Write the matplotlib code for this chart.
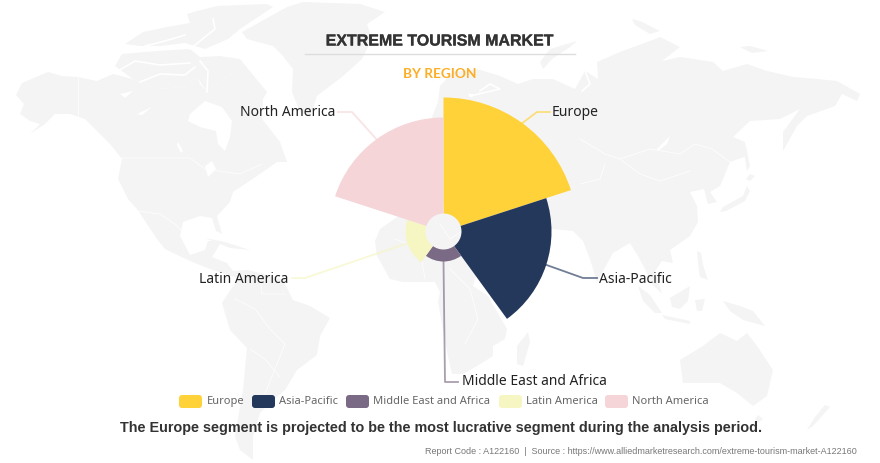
import numpy as np
import matplotlib
matplotlib.use('Agg')
import matplotlib.pyplot as plt
import matplotlib.patheffects as pe
from matplotlib.patches import Polygon, FancyBboxPatch

regions = ['Europe', 'Asia-Pacific', 'Middle East and Africa', 'Latin America', 'North America']
values = [134, 108, 30, 38, 114]
colors = ['#FFD23A', '#24385C', '#7B6A85', '#F6F6C3', '#F5D5D8']

HOLE = 18
CX, CY = 443.5, 232.5
MAP_COLOR = '#F4F4F4'

# background world map, traced by hand in pixel coordinates
land = [
    # north america
    [(16,96),(22,84),(48,73),(62,77),(78,78),(97,82),(113,75),(133,80),(157,90),(183,88),(197,78),(200,85),(207,93),
     (230,75),(243,90),(263,100),(262,120),(280,143),(287,163),(277,163),(257,177),(233,193),(230,203),(217,217),
     (222,235),(216,232),(212,219),(200,217),(183,223),(180,237),(190,256),(205,251),(208,242),(222,242),(212,258),
     (227,264),(233,272),(247,271),(240,280),(225,275),(210,270),(190,262),(165,250),(157,240),(137,210),(128,200),
     (118,180),(122,160),(110,145),(95,130),(85,120),(70,115),(55,115),(45,125),(30,135),(40,125),(30,122),(20,115),(24,105)],
    # south america
    [(247,271),(260,274),(283,281),(293,301),(310,307),(330,319),(320,337),(317,356),(297,371),(285,391),(273,401),
     (260,414),(253,437),(253,461),(240,451),(235,437),(243,391),(247,349),(230,331),(222,304),(233,287)],
    # greenland
    [(242,33),(262,22),(287,8),(303,3),(360,5),(385,13),(367,25),(372,40),(362,60),(343,77),(317,97),(310,118),
     (300,113),(292,93),(293,70),(283,57),(273,47),(247,40)],
    # arctic islands
    [(125,45),(143,33),(167,28),(190,24),(187,15),(197,12),(217,7),(267,5),(273,8),(240,30),(228,40),(205,50),(185,44),(160,47),(140,47)],
    [(115,67),(122,55),(157,52),(190,50),(200,58),(220,57),(240,60),(267,93),(263,100),(243,90),(230,75),(207,93),(197,78),(183,88),(157,90),(133,80)],
    # africa
    [(375,242),(380,230),(397,218),(440,212),(470,215),(485,250),(473,287),(488,297),(507,330),(505,340),(493,347),
     (493,357),(477,367),(463,375),(452,375),(447,353),(438,303),(440,293),(435,283),(403,283),(390,280),(377,257)],
    [(528,333),(530,343),(523,367),(517,365),(517,347)],
    # eurasia
    [(432,118),(438,103),(440,87),(453,73),(477,70),(500,77),(518,85),(533,80),(553,80),(575,90),(585,72),(598,80),
     (597,63),(620,53),(650,42),(660,38),(680,48),(662,62),(680,58),(713,63),(723,72),(747,65),(767,72),(793,78),
     (817,80),(837,82),(860,95),(857,102),(842,95),(835,107),(807,117),(797,127),(783,152),(783,133),(800,110),
     (780,120),(750,122),(733,138),(745,143),(747,157),(730,163),(720,187),(710,193),(717,203),(708,205),(704,190),
     (690,193),(697,207),(698,223),(690,237),(670,251),(673,264),(662,262),(655,272),(662,295),(652,285),(645,270),
     (638,257),(630,244),(613,254),(597,283),(590,260),(583,242),(573,232),(552,230),(540,270),(515,275),(490,240),
     (470,215),(440,205),(420,190)],
    [(540,63),(550,50),(577,42),(570,48),(552,60),(543,70)],
    [(632,20),(640,22),(660,32),(650,35),(635,26)],
    [(740,48),(750,47),(768,52),(752,54)],
    # islands of east and south-east asia
    [(747,187),(743,197),(723,208),(720,213),(726,212),(745,202),(750,192)],
    [(750,175),(755,177),(750,182),(746,180)],
    [(746,147),(750,167),(747,172),(745,160)],
    [(638,287),(650,296),(662,314),(655,314),(643,302)],
    [(662,316),(690,322),(690,325),(665,320)],
    [(670,299),(690,287),(688,302),(680,310),(672,308)],
    [(695,301),(705,300),(702,312),(697,312)],
    [(723,302),(740,307),(753,312),(765,327),(743,321),(730,312)],
    [(697,252),(701,254),(703,266),(708,281),(700,278),(698,264)],
    [(205,239),(225,243),(250,251),(230,249)],
    # australia and new zealand
    [(680,361),(703,347),(720,334),(737,342),(747,334),(757,347),(773,371),(767,397),(753,407),(737,394),(720,384),(683,384)],
    [(758,416),(763,420),(758,424),(755,420)],
    [(825,406),(830,408),(813,427),(807,431),(815,418)],
]

# inland water, drawn white over the land
water = [
    [(190,115),(205,102),(222,108),(232,122),(230,138),(225,152),(218,145),(216,132),(200,128),(188,122)],
    [(137,115),(152,108),(142,116)],
    [(120,95),(133,92),(125,99)],
    [(205,167),(212,162),(216,170),(208,178)],
    [(178,143),(183,152),(181,154),(177,146)],
    [(657,150),(670,137),(667,145),(658,152)],
    [(468,95),(474,95),(472,99)],
]

# thin white channels between the arctic islands
channels = [
    [(118,72),(135,62),(160,66),(190,64)],
    [(140,83),(160,75),(185,76),(195,68)],
    [(190,50),(200,42),(215,30),(213,20)],
    [(145,47),(165,42),(185,36)],
    [(200,62),(208,72),(207,93)],
    [(480,92),(490,85),(500,90),(470,97)],
    [(585,72),(590,85),(582,92)],
]

# thin white country borders
borders = [
    [(78,78),(78,118)],
    [(122,159),(190,159),(205,170),(240,175),(262,165)],
    [(137,212),(160,215),(175,225),(182,232)],
    [(580,140),(605,155),(620,160),(650,150),(680,155),(695,145),(712,150),(730,163)],
    [(620,160),(640,175),(660,182),(690,172)],
    [(580,185),(600,180),(605,165)],
    [(465,345),(478,320),(470,290),(450,270)],
    [(395,240),(420,250),(425,280)],
    [(440,225),(450,240),(462,232)],
    [(235,300),(255,310),(270,330),(285,345),(275,370),(265,395)],
    [(250,350),(265,360),(280,378)],
    [(260,275),(262,295),(285,295)],
]

# elbow of each leader line and the end next to its label
leader_elbows = [(537, 113), (583, 279), (445, 383), (305, 279), (352, 113)]
leader_ends = [(550, 113), (597, 279), (458, 383), (292, 279), (338, 113)]
label_pos = [(552, 113), (599, 280), (462, 382), (288, 280), (335, 113)]
label_align = ['left', 'left', 'left', 'right', 'right']

# legend swatches (left edge) and text starts
swatch_x = [179, 252, 346, 499, 605]
legend_text_x = [207, 279, 373, 526, 632]

fig = plt.figure(figsize=(8.8, 4.64), dpi=100, facecolor='white')

ax = fig.add_axes([0, 0, 1, 1])
ax.set_xlim(0, 880)
ax.set_ylim(464, 0)
ax.axis('off')

for shape in land:
    ax.add_patch(Polygon(shape, closed=True, facecolor=MAP_COLOR, edgecolor='none', zorder=1))
for shape in water:
    ax.add_patch(Polygon(shape, closed=True, facecolor='white', edgecolor='none', zorder=2))
for line in channels:
    xs, ys = zip(*line)
    ax.plot(xs, ys, color='white', lw=1.2, zorder=2)
for line in borders:
    xs, ys = zip(*line)
    ax.plot(xs, ys, color='white', lw=0.5, zorder=2)

# rose chart on polar axes, one pixel per radial unit
polar = fig.add_axes([(CX - 150) / 880, (464 - CY - 150) / 464, 300 / 880, 300 / 464], projection='polar')
polar.patch.set_alpha(0)
polar.set_theta_zero_location('N')
polar.set_theta_direction(-1)
polar.set_rlim(0, 150)
polar.axis('off')

step = 2 * np.pi / len(regions)
mids = np.arange(len(regions)) * step + step / 2
heights = [v - HOLE for v in values]
polar.bar(mids, heights, width=step, bottom=HOLE, color=colors, linewidth=0, zorder=3)

# leader lines start on the outer arc of each wedge
for i, region in enumerate(regions):
    x0 = CX + values[i] * np.sin(mids[i])
    y0 = CY - values[i] * np.cos(mids[i])
    ex, ey = leader_elbows[i]
    lx, ly = leader_ends[i]
    ax.plot([x0, ex, lx], [y0, ey, ly], color=colors[i], lw=1.3, alpha=0.65, zorder=2.5)
    ax.text(label_pos[i][0], label_pos[i][1], region, ha=label_align[i], va='center',
            fontsize=10.0, color='#222222', family='Noto Sans', zorder=5)

# legend
for i, region in enumerate(regions):
    ax.add_patch(FancyBboxPatch((swatch_x[i] + 2, 398), 19, 9, boxstyle='round,pad=2,rounding_size=3',
                                facecolor=colors[i], edgecolor='none', zorder=5))
    ax.text(legend_text_x[i], 402, region, ha='left', va='center', fontsize=8.0,
            color='#666666', family='Noto Sans', zorder=5)

# titles
title = ax.text(440, 42, 'EXTREME TOURISM MARKET', ha='center', va='center', fontsize=11.5,
                fontweight='bold', color='#333333', family='Liberation Sans', zorder=5)
title.set_path_effects([pe.withStroke(linewidth=0.2, foreground='#333333')])
ax.plot([305, 575], [55, 55], color='#DDDDDD', lw=1, zorder=5)
ax.text(440, 74, 'BY REGION', ha='center', va='center', fontsize=9.8,
        color='#FDAE26', family='Lato', fontweight='bold', zorder=5)

ax.text(440.5, 428, 'The Europe segment is projected to be the most lucrative segment during the analysis period.',
        ha='center', va='center', fontsize=10.4, fontweight='bold', color='#333333',
        family='Liberation Sans', zorder=5)
ax.text(857, 452, 'Report Code : A122160  |  Source : https://www.alliedmarketresearch.com/extreme-tourism-market-A122160',
        ha='right', va='center', fontsize=6.5, color='#777777', family='Liberation Sans', zorder=5)

fig.savefig('out.png', dpi=100)
